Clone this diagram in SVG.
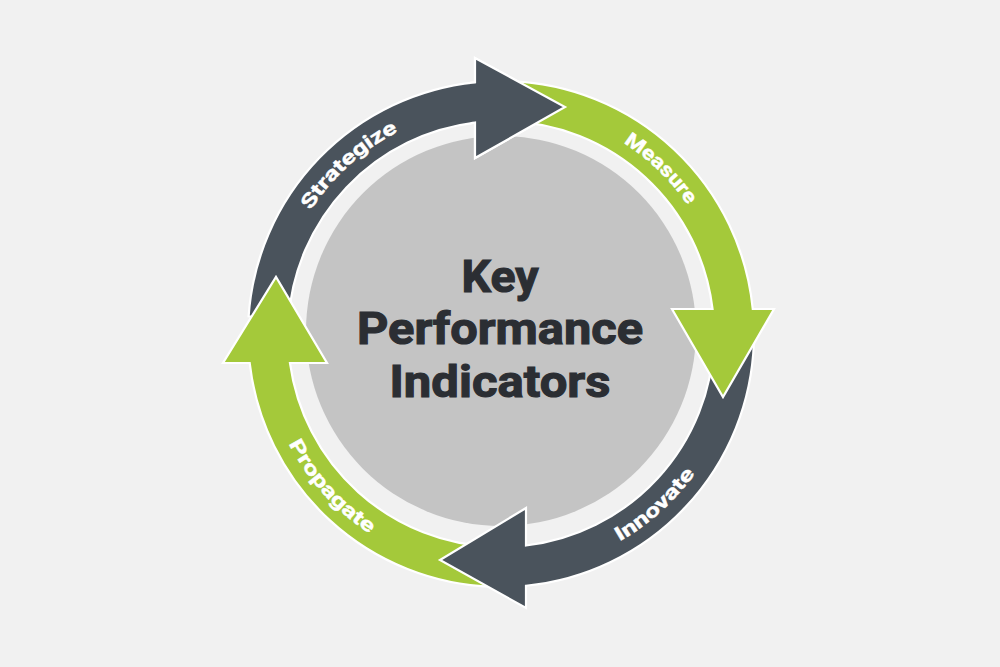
<svg xmlns="http://www.w3.org/2000/svg" xmlns:xlink="http://www.w3.org/1999/xlink" width="1000" height="667" viewBox="0 0 1000 667">
<style>
.dark{fill:#4a535c;stroke:#ffffff;stroke-width:2.2;stroke-linejoin:miter}
.green{fill:#a4c93a;stroke:#ffffff;stroke-width:2.2;stroke-linejoin:miter}
.lbl{font-family:Roboto,"Liberation Sans",sans-serif;font-weight:700;font-size:19.5px;fill:#ffffff;stroke:#ffffff;stroke-width:0.4}
.title{font-family:Roboto,"Liberation Sans",sans-serif;font-weight:700;font-size:44px;fill:#2b2e33;stroke:#2b2e33;stroke-width:1.1;text-anchor:middle}
</style>
<defs>
<path id="pS" d="M285.11,263.85 A227,227 0 0 1 453.80,111.96"/>
<path id="pM" d="M555.92,113.74 A227,227 0 0 1 719.21,271.43"/>
<path id="pI" d="M550.69,567.78 A239,239 0 0 0 728.30,407.86"/>
<path id="pP" d="M267.22,383.69 A239,239 0 0 0 427.14,561.30"/>
<clipPath id="topHead"><rect x="470" y="40" width="110" height="135"/></clipPath>
</defs>
<rect width="1000" height="667" fill="#f1f1f1"/>
<g id="center">
<circle cx="501" cy="331" r="195" fill="#c4c4c4"/>
<text class="title" x="500" y="292" textLength="77" lengthAdjust="spacingAndGlyphs">Key</text>
<text class="title" x="500" y="344" textLength="286" lengthAdjust="spacingAndGlyphs">Performance</text>
<text class="title" x="500" y="397" textLength="221" lengthAdjust="spacingAndGlyphs">Indicators</text>
</g>
<g id="connectors">
<path id="strategize" class="dark" d="M248.62,316.35 A253,253 0 0 1 475,82.34 L475,58 L565,107 L475,158 L475,122.59 A213,213 0 0 0 288.52,319.14 Z"/>
<path id="propagate" class="green" d="M492.17,586.85 A253,253 0 0 1 249.67,363 L223,363 L276,277 L327,363 L289.98,363 A213,213 0 0 0 493.57,546.87 Z"/>
<path id="innovate" class="dark" d="M753.85,342.83 A253,253 0 0 1 526,585.76 L526,608 L440,560 L526,508 L526,545.53 A213,213 0 0 0 713.87,341.43 Z"/>
<path id="measure" class="green" d="M509.83,81.15 A253,253 0 0 1 752.76,309 L774,309 L723,397 L672,309 L712.53,309 A213,213 0 0 0 508.43,121.13 Z"/>
<use xlink:href="#strategize" href="#strategize" clip-path="url(#topHead)"/>
</g>
<g id="labels">
<text class="lbl"><textPath xlink:href="#pS" href="#pS" startOffset="50%" text-anchor="middle" textLength="119" lengthAdjust="spacingAndGlyphs">Strategize</textPath></text>
<text class="lbl"><textPath xlink:href="#pM" href="#pM" startOffset="50%" text-anchor="middle" textLength="90" lengthAdjust="spacingAndGlyphs">Measure</textPath></text>
<text class="lbl"><textPath xlink:href="#pI" href="#pI" startOffset="50%" text-anchor="middle" textLength="102" lengthAdjust="spacingAndGlyphs">Innovate</textPath></text>
<text class="lbl"><textPath xlink:href="#pP" href="#pP" startOffset="50%" text-anchor="middle" textLength="122" lengthAdjust="spacingAndGlyphs">Propagate</textPath></text>
</g>
</svg>
